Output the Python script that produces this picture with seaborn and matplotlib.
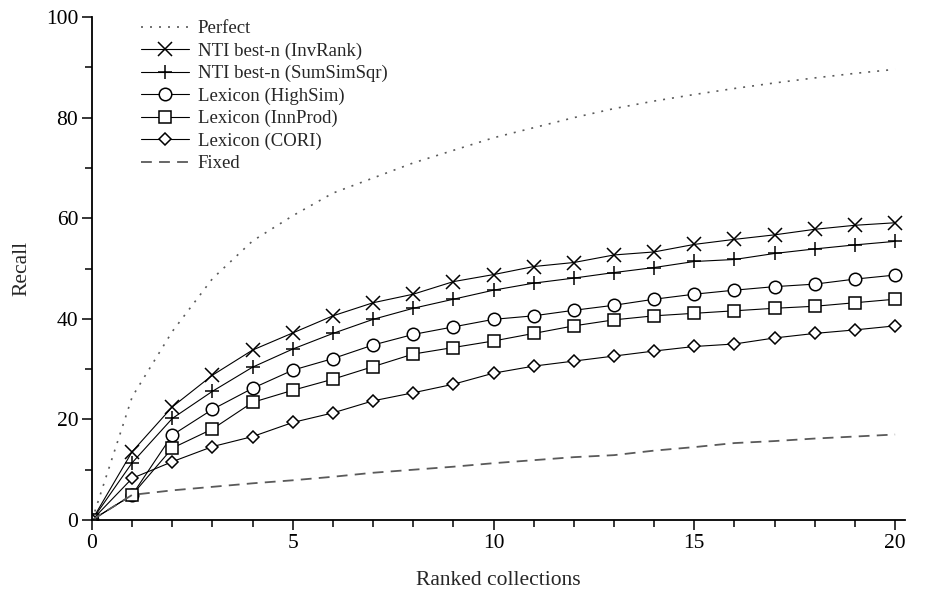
import numpy as np
import pandas as pd
import matplotlib
matplotlib.use("Agg")
import matplotlib.pyplot as plt
import seaborn as sns

# data
ranks = list(range(0, 21))
perfect = [0, 24.5, 37.5, 48, 55.5, 60.5, 65, 68, 71, 73.5, 76,
           78, 80, 81.8, 83.3, 84.6, 85.8, 86.9, 87.9, 88.8, 89.6]
inv_rank = [0, 13.6, 22.5, 28.8, 33.8, 37.2, 40.6, 43.2, 44.9, 47.4, 48.8,
            50.4, 51.2, 52.7, 53.3, 54.8, 55.8, 56.7, 57.8, 58.6, 59.1]
sum_sim_sqr = [0, 11.4, 20.2, 25.6, 30.4, 34.0, 37.1, 39.9, 42.1, 43.9, 45.7,
               47.1, 48.1, 49.2, 50.2, 51.4, 51.8, 53.0, 53.9, 54.7, 55.4]
high_sim = [0, 5.0, 16.9, 22.0, 26.2, 29.8, 32.1, 34.8, 36.9, 38.4, 39.9,
            40.6, 41.7, 42.7, 43.9, 44.9, 45.7, 46.4, 46.9, 47.9, 48.7]
inn_prod = [0, 5.0, 14.3, 18.1, 23.4, 25.8, 28.0, 30.5, 33.0, 34.3, 35.6,
            37.1, 38.6, 39.8, 40.6, 41.1, 41.6, 42.1, 42.5, 43.2, 43.9]
cori = [0, 8.3, 11.6, 14.6, 16.6, 19.4, 21.3, 23.7, 25.3, 27.0, 29.2,
        30.6, 31.6, 32.6, 33.6, 34.5, 35.0, 36.2, 37.1, 37.8, 38.6]
fixed = [0, 5.0, 5.9, 6.6, 7.3, 7.9, 8.6, 9.4, 10.0, 10.6, 11.3,
         11.9, 12.5, 12.9, 13.8, 14.5, 15.3, 15.7, 16.2, 16.6, 17.0]

names = ["Perfect", "NTI best-n (InvRank)", "NTI best-n (SumSimSqr)",
         "Lexicon (HighSim)", "Lexicon (InnProd)", "Lexicon (CORI)", "Fixed"]

sns.set_theme(style="ticks")
plt.rcParams["font.family"] = ["Liberation Serif", "DejaVu Serif"]

fig = plt.figure(figsize=(9.25, 5.9), dpi=100)
ax = fig.add_axes([0.0995, 0.1186, 0.879, 0.8525])

gray = "#5a5a5a"
sns.lineplot(x=ranks, y=perfect, ax=ax, color=gray, lw=1.2,
             linestyle=(0, (1.2, 4.2)), label=names[0])

marker_opts = [("x", 9.5, inv_rank), ("+", 9.5, sum_sim_sqr),
               ("o", 9, high_sim), ("s", 8.5, inn_prod), ("D", 5.8, cori)]
for name, (mk, ms, vals) in zip(names[1:6], marker_opts):
    sns.lineplot(x=ranks, y=vals, ax=ax, color="black", lw=0.8,
                 marker=mk, markersize=ms, markerfacecolor="white",
                 markeredgecolor="black", markeredgewidth=1.1,
                 label=name)

sns.lineplot(x=ranks, y=fixed, ax=ax, color=gray, lw=1.3,
             linestyle=(0, (6, 4)), label=names[6])

ax.set_xlim(0, 20.25)
ax.set_ylim(0, 100)
ax.set_xticks([0, 5, 10, 15, 20])
ax.set_xticks(range(0, 21), minor=True)
ax.set_yticks([0, 20, 40, 60, 80, 100])
ax.set_yticks(range(0, 101, 10), minor=True)
ax.tick_params(axis="both", which="major", length=7, width=1.1,
               labelsize=15.5, color="black", labelcolor="black", pad=3)
ax.tick_params(axis="both", which="minor", length=5, width=1.1, color="black")
for s in ["top", "right"]:
    ax.spines[s].set_visible(False)
for s in ["left", "bottom"]:
    ax.spines[s].set_linewidth(1.3)
    ax.spines[s].set_color("black")
ax.grid(False)

ax.set_xlabel("Ranked collections", fontsize=15.5, labelpad=13)
ax.set_ylabel("Recall", fontsize=15.5, labelpad=10)

ax.legend(loc="upper left", bbox_to_anchor=(0.152, 0.966),
          bbox_transform=fig.transFigure, frameon=False, fontsize=13.5,
          handlelength=2.6, handletextpad=0.45, labelspacing=0.28,
          borderpad=0, borderaxespad=0)

fig.savefig("out.png", dpi=100, facecolor="white")
